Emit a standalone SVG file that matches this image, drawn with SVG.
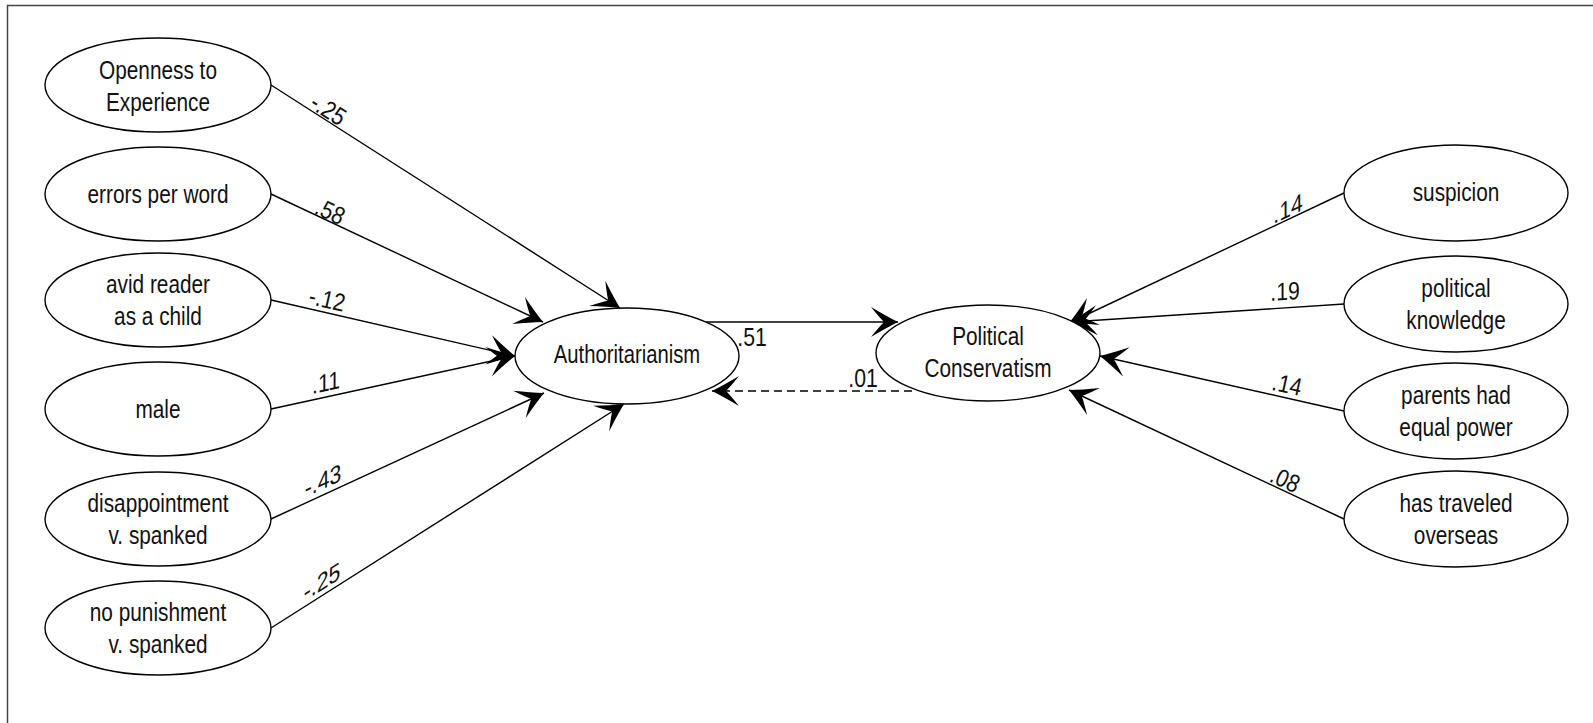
<svg xmlns="http://www.w3.org/2000/svg" width="1593" height="723" viewBox="0 0 1593 723">
<style>
.node ellipse{fill:#fff;stroke:#000;stroke-width:1.4}
.node text{font-family:"Liberation Sans",Arial,sans-serif;font-size:26px;fill:#111;text-anchor:middle}
.edge{stroke:#000;stroke-width:1.4;fill:none;marker-end:url(#ah)}
.dash{stroke-dasharray:8 5}
.lbl{font-family:"Liberation Sans",Arial,sans-serif;font-size:25px;fill:#111;text-anchor:middle}
</style>
<defs>
<marker id="ah" viewBox="-30 -16 32 32" refX="0" refY="0" markerWidth="32" markerHeight="32" markerUnits="userSpaceOnUse" orient="auto">
<path d="M0,0 Q-12,-6 -27,-15 Q-19,-5 -14,0 Q-19,5 -27,15 Q-12,6 0,0 Z" fill="#000"/>
</marker>
</defs>
<rect x="7.5" y="5.5" width="1600" height="730" fill="#fff" stroke="#444" stroke-width="1.5"/>

<g id="connectors">
<path class="edge" d="M271,85 L620,308"/>
<path class="edge" d="M271,194 L543,322"/>
<path class="edge" d="M271,300 L515,356"/>
<path class="edge" d="M271,409 L515,356"/>
<path class="edge" d="M271,519 L544,393"/>
<path class="edge" d="M271,628 L624,404"/>
<path class="edge" d="M706,322 L898,322"/>
<path class="edge dash" d="M912,391 L712,391"/>
<path class="edge" d="M1344,193 L1069,323"/>
<path class="edge" d="M1344,304 L1070,322"/>
<path class="edge" d="M1344,411 L1100,356"/>
<path class="edge" d="M1344,519 L1069,390"/>
</g>

<g id="labels">
<text class="lbl" transform="translate(328,110) rotate(32.5) scale(0.85,1)" y="8">-.25</text>
<text class="lbl" transform="translate(330,212) rotate(25.1) scale(0.85,1)" y="8">.58</text>
<text class="lbl" transform="translate(327,300) rotate(12.6) scale(0.85,1)" y="8">-.12</text>
<text class="lbl" transform="translate(326,383) skewY(-12.2) scale(0.85,1)" y="8">.11</text>
<text class="lbl" transform="translate(323,481) skewY(-24.6) scale(0.85,1)" y="8">-.43</text>
<text class="lbl" transform="translate(322,582) skewY(-32.3) scale(0.85,1)" y="8">-.25</text>
<text class="lbl" transform="translate(752,346) scale(0.85,1)">.51</text>
<text class="lbl" transform="translate(863,387) scale(0.85,1)">.01</text>
<text class="lbl" transform="translate(1288,209) skewY(-25.2) scale(0.85,1)" y="8">.14</text>
<text class="lbl" transform="translate(1285,292) skewY(-3.8) scale(0.85,1)" y="8">.19</text>
<text class="lbl" transform="translate(1287,385) rotate(12.4) scale(0.85,1)" y="8">.14</text>
<text class="lbl" transform="translate(1285,480) rotate(24.7) scale(0.85,1)" y="8">.08</text>
</g>

<g id="openness" class="node"><ellipse cx="158" cy="85" rx="113" ry="47"/><text transform="translate(158,79) scale(0.8,1)">Openness to</text><text transform="translate(158,111) scale(0.8,1)">Experience</text></g>
<g id="errors" class="node"><ellipse cx="158" cy="194" rx="113" ry="47"/><text transform="translate(158,203) scale(0.8,1)">errors per word</text></g>
<g id="avid" class="node"><ellipse cx="158" cy="300" rx="113" ry="47"/><text transform="translate(158,293) scale(0.8,1)">avid reader</text><text transform="translate(158,325) scale(0.8,1)">as a child</text></g>
<g id="male" class="node"><ellipse cx="158" cy="409" rx="113" ry="47"/><text transform="translate(158,418) scale(0.8,1)">male</text></g>
<g id="disappointment" class="node"><ellipse cx="158" cy="519" rx="113" ry="47"/><text transform="translate(158,512) scale(0.8,1)">disappointment</text><text transform="translate(158,544) scale(0.8,1)">v. spanked</text></g>
<g id="nopunishment" class="node"><ellipse cx="158" cy="628" rx="113" ry="47"/><text transform="translate(158,621) scale(0.8,1)">no punishment</text><text transform="translate(158,653) scale(0.8,1)">v. spanked</text></g>

<g id="authoritarianism" class="node"><ellipse cx="627" cy="356" rx="112" ry="48"/><text transform="translate(627,363) scale(0.78,1)">Authoritarianism</text></g>
<g id="conservatism" class="node"><ellipse cx="988" cy="353" rx="112" ry="48"/><text transform="translate(988,345) scale(0.8,1)">Political</text><text transform="translate(988,377) scale(0.8,1)">Conservatism</text></g>

<g id="suspicion" class="node"><ellipse cx="1456" cy="193" rx="112" ry="48"/><text transform="translate(1456,201) scale(0.8,1)">suspicion</text></g>
<g id="knowledge" class="node"><ellipse cx="1456" cy="304" rx="112" ry="48"/><text transform="translate(1456,297) scale(0.8,1)">political</text><text transform="translate(1456,329) scale(0.8,1)">knowledge</text></g>
<g id="parents" class="node"><ellipse cx="1456" cy="411" rx="112" ry="48"/><text transform="translate(1456,404) scale(0.8,1)">parents had</text><text transform="translate(1456,436) scale(0.8,1)">equal power</text></g>
<g id="traveled" class="node"><ellipse cx="1456" cy="519" rx="112" ry="48"/><text transform="translate(1456,512) scale(0.8,1)">has traveled</text><text transform="translate(1456,544) scale(0.8,1)">overseas</text></g>
</svg>
